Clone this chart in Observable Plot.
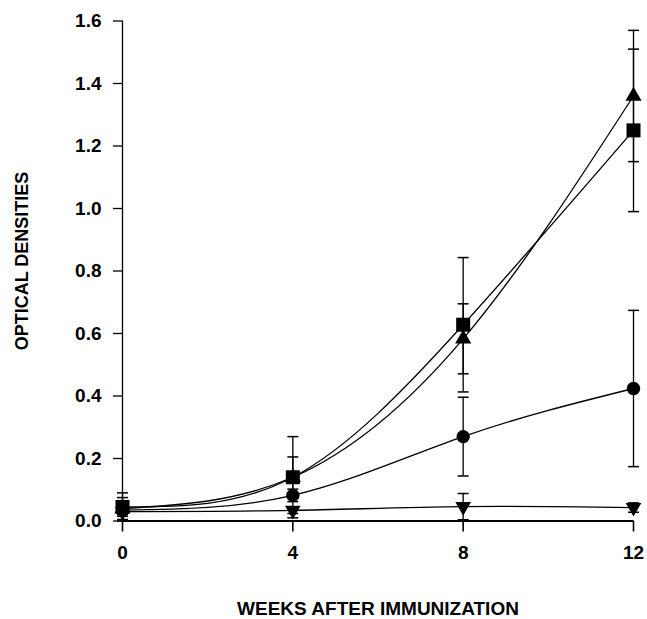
<!DOCTYPE html>
<html>
<head>
<meta charset="utf-8">
<script src="https://cdn.jsdelivr.net/npm/d3@7"></script>
<script src="https://cdn.jsdelivr.net/npm/@observablehq/plot@0.6"></script>
<style>
  html, body { margin: 0; padding: 0; background: #fff; }
</style>
</head>
<body>
<div id="chart"></div>
<script>
// ---- data ----
const weeks = [0, 4, 8, 12];
const seriesNames = ["square", "triangle", "circle", "invTriangle"];
const squareOD   = [0.045, 0.14, 0.628, 1.25];
const squareErr  = [0.045, 0.13, 0.215, 0.26];
const triangleOD  = [0.04, 0.14, 0.583, 1.36];
const triangleErr = [0.035, 0.065, 0.112, 0.21];
const circleOD  = [0.035, 0.082, 0.27, 0.424];
const circleErr = [0.02, 0.02, 0.126, 0.25];
const invTriOD  = [0.03, 0.034, 0.046, 0.043];
const invTriErr = [0.01, 0.01, 0.042, 0.015];
const xTicks = [0, 4, 8, 12];
const yTicks = [0, 0.2, 0.4, 0.6, 0.8, 1.0, 1.2, 1.4, 1.6];

const valuesBySeries = {square: squareOD, triangle: triangleOD, circle: circleOD, invTriangle: invTriOD};
const errBySeries = {square: squareErr, triangle: triangleErr, circle: circleErr, invTriangle: invTriErr};

const rows = seriesNames.flatMap(s => weeks.map((w, i) => ({
  series: s, week: w, od: valuesBySeries[s][i],
  lo: valuesBySeries[s][i] - errBySeries[s][i],
  hi: valuesBySeries[s][i] + errBySeries[s][i]
})));

// custom symbols
const invTriangleSymbol = {
  draw(ctx, size) {
    const y = Math.sqrt(size / (Math.sqrt(3) * 3));
    ctx.moveTo(0, y * 2);
    ctx.lineTo(-Math.sqrt(3) * y, -y);
    ctx.lineTo(Math.sqrt(3) * y, -y);
    ctx.closePath();
  }
};
const capSymbol = {
  draw(ctx, size) {
    ctx.moveTo(-5.5, 0);
    ctx.lineTo(5.5, 0);
  }
};
const symbolFor = {square: "square", triangle: "triangle", circle: "circle", invTriangle: invTriangleSymbol};
const rFor = {square: 7.9, triangle: 6, circle: 6.7, invTriangle: 5.8};

const marks = [
  Plot.ruleX([0], {stroke: "#000", strokeWidth: 1.3}),
  Plot.ruleY([0], {stroke: "#000", strokeWidth: 2}),
  Plot.axisX({ticks: xTicks, tickSize: 11, tickPadding: 13, label: null, fontSize: 19, strokeWidth: 1.6}),
  Plot.axisY({ticks: yTicks, tickSize: 9, tickPadding: 12, tickFormat: d3.format(".1f"), label: null, fontSize: 19, strokeWidth: 1.3}),
  Plot.line(rows, {x: "week", y: "od", z: "series", curve: "natural", stroke: "#000", strokeWidth: 1.3}),
  Plot.ruleX(rows, {x: "week", y1: "lo", y2: "hi", stroke: "#000", strokeWidth: 1.3}),
  Plot.dot(rows, {x: "week", y: "lo", symbol: capSymbol, r: 3, stroke: "#000", strokeWidth: 1.5, fill: "none"}),
  Plot.dot(rows, {x: "week", y: "hi", symbol: capSymbol, r: 3, stroke: "#000", strokeWidth: 1.5, fill: "none"})
];
for (const s of seriesNames) {
  marks.push(Plot.dot(rows.filter(d => d.series === s), {
    x: "week", y: "od", symbol: symbolFor[s], r: rFor[s], fill: "#000", stroke: "none"
  }));
}
marks.push(
  Plot.text(["WEEKS AFTER IMMUNIZATION"], {frameAnchor: "bottom", dy: 80, lineAnchor: "top", fontSize: 19, fontWeight: "bold", fill: "#000"}),
  Plot.text(["OPTICAL DENSITIES"], {frameAnchor: "left", dx: -100, dy: -10, rotate: -90, textAnchor: "middle", lineAnchor: "middle", fontSize: 18, fontWeight: "bold", fill: "#000"})
);

const chart = Plot.plot({
  width: 647,
  height: 619,
  marginLeft: 122,
  marginRight: 14,
  marginTop: 20.5,
  marginBottom: 98.5,
  x: {domain: [0, 12]},
  y: {domain: [0, 1.6]},
  style: {fontFamily: "'Liberation Sans', Arial, sans-serif", fontWeight: "bold", fontSize: "19px", color: "#000", background: "#fff"},
  marks
});
document.getElementById("chart").appendChild(chart);
</script>
</body>
</html>
